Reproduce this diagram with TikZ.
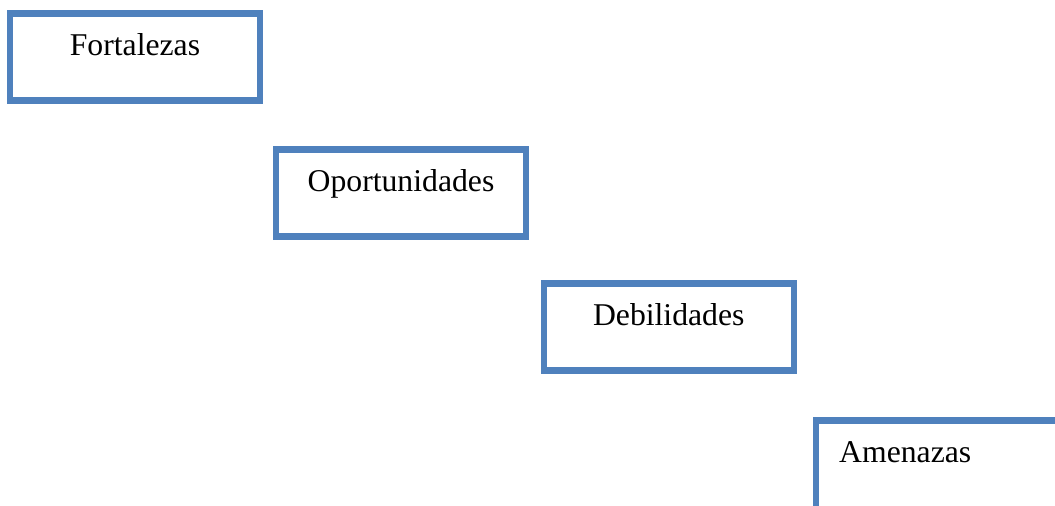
\documentclass[tikz,border=0pt]{standalone}
\usepackage{fontspec}
\setmainfont{Liberation Serif}
\definecolor{boxblue}{HTML}{4F81BD}
\begin{document}
\begin{tikzpicture}[x=1pt,y=-1pt,
  stagebox/.style={draw=boxblue, line width=6.5pt, rectangle, inner sep=0pt, outer sep=0pt,
    minimum width=250pt, minimum height=87pt, fill=white},
  label/.style={font=\fontsize{31.7pt}{36pt}\selectfont, inner sep=0pt}]
  \useasboundingbox (0,0) rectangle (1055,506);
  \clip (0,0) rectangle (1055,506);
  % staircase of four boxes
  \node[stagebox] (fbox) at (135,56.75) {};
  \node[stagebox] (obox) at (401,193) {};
  \node[stagebox] (dbox) at (668.75,327) {};
  \node[stagebox, minimum height=89pt] (abox) at (941,465) {};
  % captions, set on a common baseline below each top edge
  \node[label, anchor=base] (ftext) at ([yshift=-42pt]fbox.north) {Fortalezas};
  \node[label, anchor=base] (otext) at ([yshift=-42pt]obox.north) {Oportunidades};
  \node[label, anchor=base] (dtext) at ([yshift=-42pt]dbox.north) {Debilidades};
  \node[label, anchor=base west] (atext) at ([xshift=23pt,yshift=-42pt]abox.north west) {Amenazas};
\end{tikzpicture}
\end{document}
